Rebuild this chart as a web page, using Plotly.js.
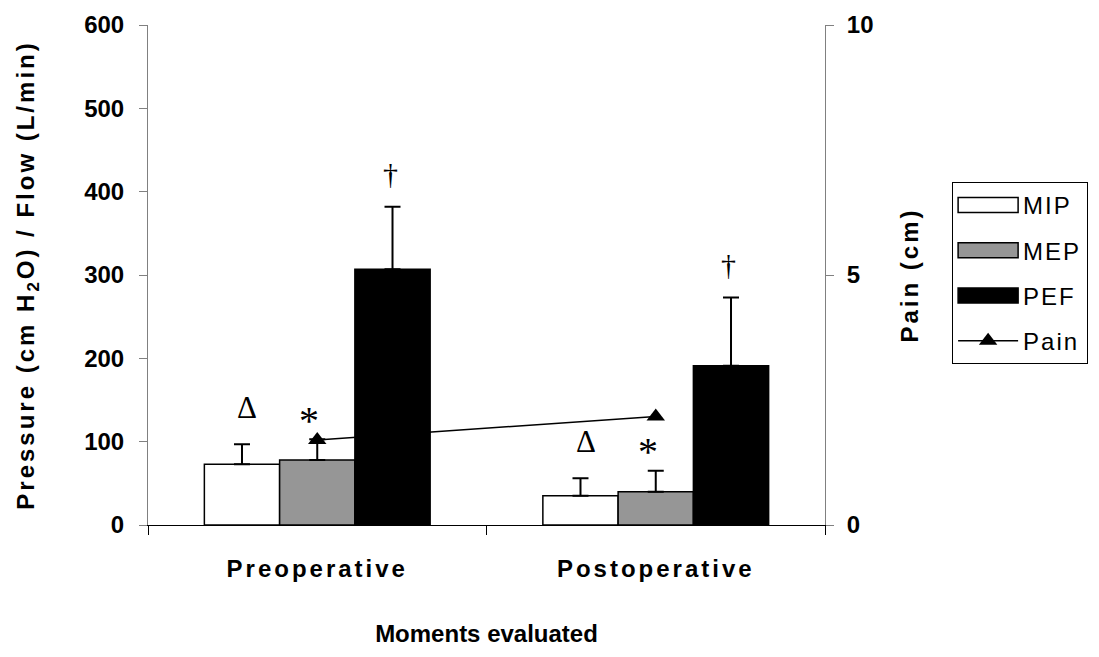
<!DOCTYPE html>
<html>
<head>
<meta charset="utf-8">
<script src="https://cdn.plot.ly/plotly-3.0.1.min.js"></script>
<style>
  html, body { margin: 0; padding: 0; background: #fff; }
  #chart { width: 1099px; height: 657px; }
  .xtick text, .ytitle, .y2title { letter-spacing: 3px; }
  .legendtext { letter-spacing: 2px; }
</style>
</head>
<body>
<div id="chart"></div>
<script>
// ---- data ----
const categories = ['Preoperative', 'Postoperative'];
const mipValues = [73, 35];
const mipErrors = [24, 21];
const mepValues = [78, 40];
const mepErrors = [25, 25];
const pefValues = [307, 191];
const pefErrors = [75, 82];
const painValues = [1.7, 2.17];
const leftTicks = [0, 100, 200, 300, 400, 500, 600];
const rightTicks = [0, 5, 10];
const seriesNames = ['MIP', 'MEP', 'PEF', 'Pain'];
const sigMarks = ['Δ', '*', '†'];

const FONT = 'Arial, "Liberation Sans", sans-serif';
const SERIF = '"Liberation Serif", "Times New Roman", serif';

function barTrace(name, vals, errs, fill, grp) {
  return {
    type: 'bar', name: name, x: categories, y: vals,
    marker: { color: fill, line: { color: '#000', width: 1.5 } },
    error_y: { type: 'data', array: errs, arrayminus: errs.map(() => 0), symmetric: false,
               color: '#000', thickness: 2, width: 8 },
    legendgroup: grp
  };
}

const traces = [
  barTrace(seriesNames[0], mipValues, mipErrors, '#ffffff', 'g1'),
  barTrace(seriesNames[1], mepValues, mepErrors, '#969696', 'g2'),
  barTrace(seriesNames[2], pefValues, pefErrors, '#000000', 'g3'),
  {
    type: 'scatter', mode: 'lines+markers', name: seriesNames[3],
    x: categories, y: painValues, yaxis: 'y2',
    line: { color: '#000', width: 1.5 },
    marker: { symbol: 'triangle-up', size: 16, color: '#000' },
    legendgroup: 'g4'
  }
];

// significance marks above each bar's error bar
const barSets = [[mipValues, mipErrors], [mepValues, mepErrors], [pefValues, pefErrors]];
const barOffset = 0.2222;
const markStyle = [
  { size: 31, shift: 37, xs: 5 },
  { size: 40, shift: 19, xs: -8 },
  { size: 30, shift: 33, xs: -2 }
];
const annotations = [];
categories.forEach((c, ci) => {
  barSets.forEach((s, si) => {
    annotations.push({
      x: ci + (si - 1) * barOffset, y: s[0][ci] + s[1][ci],
      xref: 'x', yref: 'y', text: sigMarks[si], showarrow: false,
      yanchor: 'middle', yshift: markStyle[si].shift, xshift: markStyle[si].xs,
      font: { family: SERIF, size: markStyle[si].size, color: '#000' }
    });
  });
});

const tickFont = { family: FONT, size: 24, color: '#000', weight: 'bold' };
const titleFont = { family: FONT, size: 24, color: '#000', weight: 'bold' };

const layout = {
  width: 1099, height: 657,
  margin: { l: 148, r: 273, t: 25, b: 132 },
  paper_bgcolor: '#fff', plot_bgcolor: '#fff',
  barmode: 'group', bargap: 0.333, bargroupgap: 0,
  showlegend: true,
  legend: {
    x: 1.186, y: 0.686, xanchor: 'left', yanchor: 'top',
    bordercolor: '#000', borderwidth: 1, bgcolor: '#fff',
    font: { family: FONT, size: 24, color: '#000' },
    traceorder: 'grouped', tracegroupgap: 11, itemwidth: 60
  },
  xaxis: {
    type: 'category', range: [-0.5, 1.5],
    showline: true, linecolor: '#000', linewidth: 1,
    ticks: 'outside', tickson: 'boundaries', ticklen: 9, tickcolor: '#000',
    tickfont: tickFont, ticklabelstandoff: 22,
    showgrid: false, zeroline: false,
    title: { text: 'Moments evaluated', font: titleFont, standoff: 44 }
  },
  xaxis2: {
    overlaying: 'x', anchor: 'y', type: 'linear', range: [-0.5, 1.5],
    tickvals: [-0.5, 0.5, 1.5], ticks: 'inside', ticklen: 9, tickcolor: '#000',
    showticklabels: false, showline: false, showgrid: false, zeroline: false
  },
  yaxis: {
    range: [0, 600], tickvals: leftTicks, ticktext: leftTicks.map(String),
    showline: true, linecolor: '#808080', linewidth: 1,
    ticks: 'outside', ticklen: 8, tickcolor: '#808080',
    tickfont: tickFont, ticklabelstandoff: 10,
    showgrid: false, zeroline: false,
    title: { text: 'Pressure (cm H<sub>2</sub>O) / Flow (L/min)', font: titleFont, standoff: 42 }
  },
  yaxis2: {
    overlaying: 'y', side: 'right', anchor: 'x', range: [0, 10], tickvals: rightTicks,
    showline: true, linecolor: '#808080', linewidth: 1,
    ticks: 'outside', ticklen: 8, tickcolor: '#808080',
    tickfont: tickFont, ticklabelstandoff: 8,
    showgrid: false, zeroline: false,
    title: { text: 'Pain (cm)', font: titleFont, standoff: 28 }
  },
  yaxis3: {
    overlaying: 'y', side: 'left', anchor: 'x', range: [0, 600], tickvals: leftTicks,
    ticks: 'inside', ticklen: 8, tickcolor: '#808080',
    showticklabels: false, showline: false, showgrid: false, zeroline: false
  },
  yaxis4: {
    overlaying: 'y', side: 'right', anchor: 'x', range: [0, 10], tickvals: rightTicks,
    ticks: 'inside', ticklen: 8, tickcolor: '#808080',
    showticklabels: false, showline: false, showgrid: false, zeroline: false
  },
  annotations: annotations
};

Plotly.newPlot('chart', traces, layout, { displayModeBar: false, staticPlot: true }).then(gd => {
  // widen the bar swatches in the legend to match the reference's long rectangles
  gd.querySelectorAll('.legend .traces').forEach(item => {
    const d = item.__data__;
    const tr = d && d[0] && d[0].trace;
    if (tr && tr.type === 'bar') {
      item.querySelectorAll('g.legendpoints > path').forEach(p => {
        p.setAttribute('d', 'M30,7.5H-30V-7.5H30Z');
      });
    }
  });
});
</script>
</body>
</html>
